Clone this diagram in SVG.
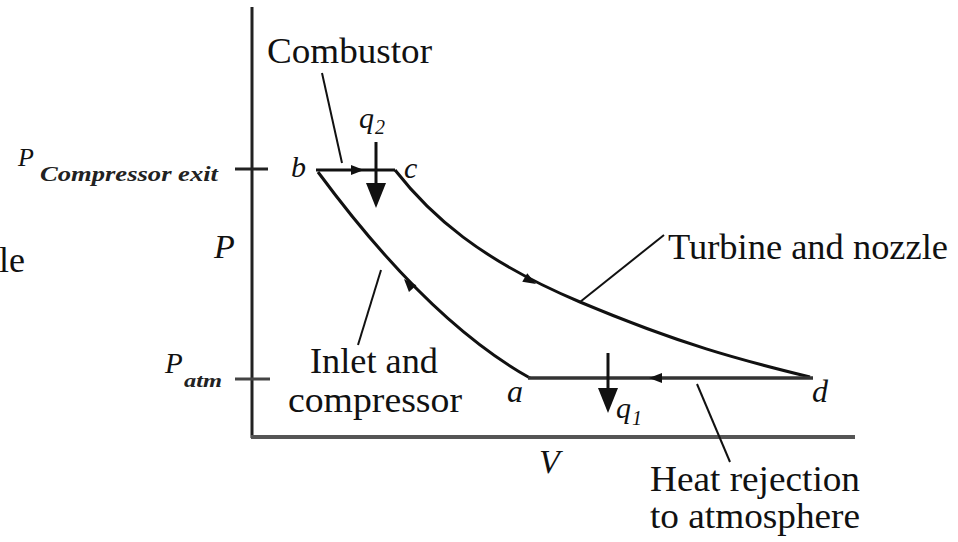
<svg xmlns="http://www.w3.org/2000/svg" width="958" height="542" viewBox="0 0 958 542">
<style>
.t{font-family:"Liberation Serif","DejaVu Serif","Times New Roman",serif;font-size:36px;fill:#111}
.i{font-family:"Liberation Serif","DejaVu Serif","Times New Roman",serif;font-style:italic;fill:#111}
.sb{font-family:"Liberation Serif","DejaVu Serif","Times New Roman",serif;font-style:italic;font-weight:bold;fill:#222}
.ax{stroke:#222;stroke-width:3;fill:none}
.cv{stroke:#111;stroke-width:3;fill:none}
.ld{stroke:#111;stroke-width:2;fill:none}
</style>
<defs>
<path id="ahs" d="M0,0 L-13,-5 L-13,5 Z" fill="#111"/>
<path id="ahl" d="M0,0 L-25,-10 L-25,10 Z" fill="#111"/>
</defs>
<rect width="958" height="542" fill="#fff"/>
<g id="axes">
<line class="ax" x1="252" y1="7" x2="252" y2="438"/>
<line x1="251" y1="437" x2="855" y2="437" stroke="#555" stroke-width="4"/>
<line class="ax" x1="235" y1="169" x2="268" y2="169" stroke-width="2.5"/>
<line x1="235" y1="379" x2="270" y2="379" stroke="#444" stroke-width="3"/>
<text class="i" x="214" y="258" font-size="34">P</text>
<text class="i" x="539" y="473" font-size="34">V</text>
<text class="i" x="18" y="166" font-size="26">P</text>
<text class="sb" x="40" y="181" font-size="20" textLength="178" lengthAdjust="spacingAndGlyphs">Compressor exit</text>
<text class="i" x="165" y="373" font-size="29">P</text>
<text class="sb" x="184" y="387" font-size="19" textLength="38" lengthAdjust="spacingAndGlyphs">atm</text>
</g>
<g id="connectors">
<line class="cv" x1="316" y1="170" x2="395" y2="170"/>
<use href="#ahs" transform="translate(364,170)"/>
<path class="cv" d="M318,172 Q428,321 530,378"/>
<use href="#ahs" transform="translate(404,279) rotate(-132)"/>
<path class="cv" d="M395,170 C430,215 480,260 580,302 S740,360 810,377"/>
<use href="#ahs" transform="translate(536,284) rotate(30)"/>
<line x1="528" y1="378" x2="813" y2="378" stroke="#333" stroke-width="3.5"/>
<use href="#ahs" transform="translate(649,378) rotate(180)"/>
<line class="cv" x1="376" y1="142" x2="376" y2="195"/>
<use href="#ahl" transform="translate(376,208) rotate(90)"/>
<line class="cv" x1="608" y1="353" x2="608" y2="400"/>
<use href="#ahl" transform="translate(608,413) rotate(90)"/>
<line class="ld" x1="322" y1="73" x2="342" y2="163"/>
<line class="ld" x1="664" y1="235" x2="580" y2="302"/>
<line class="ld" x1="358" y1="345" x2="381" y2="270"/>
<line class="ld" x1="697" y1="384" x2="730" y2="462"/>
</g>
<g id="points">
<text class="i" x="291" y="177" font-size="30">b</text>
<text class="i" x="404" y="178" font-size="30">c</text>
<text class="i" x="507" y="402" font-size="32">a</text>
<text class="i" x="812" y="402" font-size="32">d</text>
<text class="i" x="359" y="128" font-size="30">q</text>
<text class="i" x="375" y="134" font-size="20">2</text>
<text class="i" x="616" y="418" font-size="30">q</text>
<text class="i" x="632" y="425" font-size="20">1</text>
</g>
<g id="labels">
<text class="t" x="-1" y="272">le</text>
<text class="t" x="267" y="63" textLength="165" lengthAdjust="spacingAndGlyphs">Combustor</text>
<text class="t" x="668" y="259" textLength="280" lengthAdjust="spacingAndGlyphs">Turbine and nozzle</text>
<text class="t" x="310" y="373" textLength="128" lengthAdjust="spacingAndGlyphs">Inlet and</text>
<text class="t" x="288" y="412" textLength="174" lengthAdjust="spacingAndGlyphs">compressor</text>
<text class="t" x="650" y="491" font-size="31" textLength="210" lengthAdjust="spacingAndGlyphs">Heat rejection</text>
<text class="t" x="650" y="528" font-size="31" textLength="210" lengthAdjust="spacingAndGlyphs">to atmosphere</text>
</g>
</svg>
